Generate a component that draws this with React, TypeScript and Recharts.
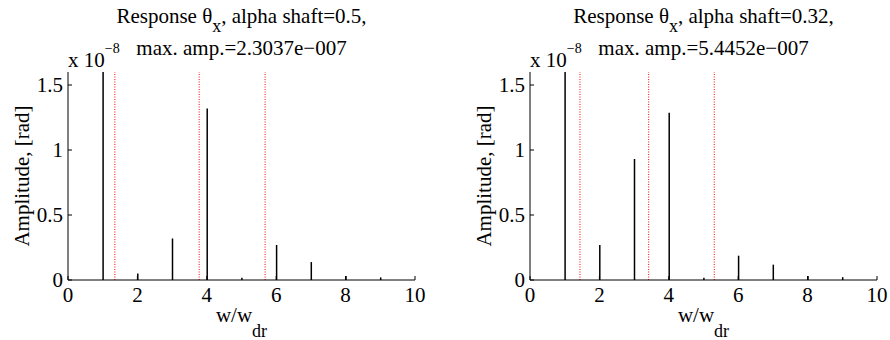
import { ComposedChart, Bar, XAxis, YAxis, ReferenceLine } from 'recharts'

// harmonic orders (w/w_dr) where the response spectrum has lines
const harmonics = [1, 2, 3, 4, 5, 6, 7, 8, 9]

// amplitudes in units of 1e-8 rad (first line runs off the top of the axes)
const ampShaft050 = [23.037, 0.05, 0.32, 1.32, 0.018, 0.27, 0.138, 0.03, 0.02]
const ampShaft032 = [54.452, 0.27, 0.93, 1.287, 0.018, 0.187, 0.118, 0.03, 0.022]

// critical speed ratios, drawn as red dotted lines
const critShaft050 = [1.35, 3.78, 5.68]
const critShaft032 = [1.44, 3.42, 5.31]

const xTicks = [0, 2, 4, 6, 8, 10]
const yTicks = [0, 0.5, 1, 1.5]

const FONT = 'Liberation Serif'
const W = 445
const H = 340

interface PanelProps {
  alpha: string
  maxAmp: string
  amps: number[]
  crits: number[]
  yAxisWidth: number
  rightMargin: number
}

function ResponsePanel({ alpha, maxAmp, amps, crits, yAxisWidth, rightMargin }: PanelProps) {
  const data = harmonics.map((h, i) => ({ h, amp: amps[i] }))
  const plotLeft = yAxisWidth
  const cx = (plotLeft + W - rightMargin) / 2
  const txt = { fontSize: 21, fontFamily: FONT, fill: '#000' }
  const labelX = yAxisWidth - 39.5

  return (
    <ComposedChart
      width={W}
      height={H}
      data={data}
      margin={{ top: 72, right: rightMargin, bottom: 0, left: 0 }}
      style={{ fontFamily: FONT }}
    >
      <XAxis
        dataKey="h"
        type="number"
        domain={[0, 10]}
        ticks={xTicks}
        interval={0}
        height={60}
        stroke="#000"
        tickSize={-4}
        tickMargin={11}
        tick={txt}
      />
      <YAxis
        type="number"
        domain={[0, 1.6]}
        ticks={yTicks}
        interval={0}
        allowDataOverflow
        width={yAxisWidth}
        stroke="#000"
        tickSize={-4}
        tickMargin={9}
        tick={txt}
      />
      {crits.map((c) => (
        <ReferenceLine key={c} x={c} stroke="#ff0000" strokeWidth={1} strokeDasharray="1 1.5" />
      ))}
      <Bar dataKey="amp" fill="#000" barSize={1.5} isAnimationActive={false} />

      <text x={cx} y={23} textAnchor="middle" style={txt}>
        Response θ
        <tspan dy={9} fontSize={18}>x</tspan>
        <tspan dy={-9}>, alpha shaft={alpha},</tspan>
      </text>
      <text x={cx} y={55} textAnchor="middle" style={txt}>
        max. amp.={maxAmp}
      </text>
      <text x={plotLeft} y={67} style={txt}>
        x 10
        <tspan dy={-14} fontSize={14}>−8</tspan>
      </text>
      <text
        x={labelX}
        y={176}
        transform={`rotate(-90, ${labelX}, 176)`}
        textAnchor="middle"
        style={txt}
      >
        Amplitude, [rad]
      </text>
      <text x={cx} y={322} textAnchor="middle" style={txt}>
        w/w
        <tspan dy={15} fontSize={18}>dr</tspan>
      </text>
    </ComposedChart>
  )
}

export default function App() {
  return (
    <div
      style={{
        position: 'absolute',
        left: 0,
        top: 0,
        width: 890,
        height: 340,
        display: 'flex',
        background: '#fff',
        fontFamily: FONT,
      }}
    >
      <ResponsePanel
        alpha="0.5"
        maxAmp="2.3037e−007"
        amps={ampShaft050}
        crits={critShaft050}
        yAxisWidth={68}
        rightMargin={30}
      />
      <ResponsePanel
        alpha="0.32"
        maxAmp="5.4452e−007"
        amps={ampShaft032}
        crits={critShaft032}
        yAxisWidth={85}
        rightMargin={13}
      />
    </div>
  )
}
